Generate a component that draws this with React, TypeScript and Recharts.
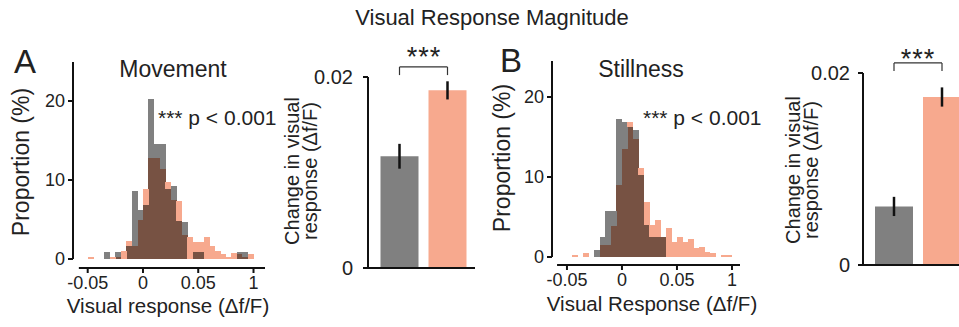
import React from 'react';
import { Bar, BarChart, Cell, ComposedChart, ErrorBar, Line, ReferenceLine, XAxis, YAxis } from 'recharts';

// histogram bins (left edges, bin width 0.005)
const binStarts = [
  -0.05, -0.045, -0.04, -0.035, -0.03, -0.025, -0.02, -0.015, -0.01, -0.005,
  0, 0.005, 0.01, 0.015, 0.02, 0.025, 0.03, 0.035, 0.04, 0.045,
  0.05, 0.055, 0.06, 0.065, 0.07, 0.075, 0.08, 0.085, 0.09, 0.095,
];
const BIN_W = 0.005;

// proportion (%) per bin
const movementGray = [
  0, 0, 0, 0.85, 0, 0.85, 0, 1.6, 8.6, 6.2,
  6.8, 20.3, 14.6, 14.6, 8.9, 9.2, 4.8, 4.7, 0, 0.85,
  0.85, 0, 0, 0, 0, 0, 0, 0.85, 0.85, 0,
];
const movementSalmon = [
  0.3, 0, 0, 0, 0.3, 0.3, 1.0, 2.3, 1.6, 4.9,
  8.9, 12.8, 12.8, 11.4, 9.7, 7.5, 7.3, 3.0, 2.8, 2.2,
  2.2, 2.8, 1.6, 1.0, 0.6, 0.3, 0.8, 0.6, 0.3, 0.6,
];
const stillnessGray = [
  0, 0, 0, 0, 0, 0.9, 2.5, 5.7, 5.7, 17.3,
  16.9, 16.3, 15.9, 10.2, 4.0, 2.5, 2.5, 2.5, 0, 0,
  0, 0, 0, 0, 0, 0, 0, 0, 0, 0,
];
const stillnessSalmon = [
  0, 0.3, 0, 0.5, 0, 0, 1.5, 1.5, 3.9, 9.0,
  13.5, 16.9, 14.7, 11.1, 6.9, 4.0, 4.6, 2.5, 3.6, 1.9,
  2.5, 1.9, 2.3, 1.1, 1.2, 0.6, 0.5, 0, 0.3, 0.3,
];

const histTicks = [-0.05, 0, 0.05, 0.1];
const histTickLabels = ['-0.05', '0', '0.05', '1'];
const propTicks = [0, 10, 20];

const conditions = ['gray', 'salmon'];
const movementMeans = [0.0117, 0.0186];
const movementSem = [0.0013, 0.00095];
const stillnessMeans = [0.0061, 0.0175];
const stillnessSem = [0.001, 0.001];
const barTicks = [0, 0.02];
const barTickLabels = ['0', '0.02'];

const FONT = '"Liberation Sans", Arial, Helvetica, sans-serif';
const SALMON = '#f7a98e';
const GRAY = '#808080';
const OVERLAP = '#775243';
const H = 327;
const Y_AXIS_W = 40;

interface HistProps {
  left: number;
  width: number;
  gray: number[];
  salmon: number[];
  plotLeft: number;
  plotRight: number;
  plotTop: number;
  plotBottom: number;
  xDomain: [number, number];
  yDomain: [number, number];
  axisStart: number;
}

function Histogram(p: HistProps) {
  // overlap drawn once, the excess of either series stacked on top of it
  const data = binStarts.map((b, i) => ({
    bin: b,
    mid: b + BIN_W / 2,
    both: Math.min(p.gray[i], p.salmon[i]),
    grayOnly: Math.max(p.gray[i] - p.salmon[i], 0),
    salmonOnly: Math.max(p.salmon[i] - p.gray[i], 0),
    salmon: p.salmon[i],
  }));
  const plotW = p.plotRight - p.plotLeft;
  const span = p.xDomain[1] - p.xDomain[0];
  const padL = ((binStarts[0] - p.xDomain[0]) / span) * plotW;
  const padR = ((p.xDomain[1] - (binStarts[binStarts.length - 1] + BIN_W)) / span) * plotW;
  const margin = {
    top: p.plotTop,
    left: p.plotLeft - p.left - Y_AXIS_W,
    right: p.left + p.width - p.plotRight,
    bottom: H - p.plotBottom - 30,
  };
  const tickStyle = { fontSize: 18, fill: '#222', fontFamily: FONT };
  return (
    <div style={{ position: 'absolute', left: p.left, top: 0 }}>
      <ComposedChart width={p.width} height={H} data={data} margin={margin} barCategoryGap={0} barGap={0}>
        <XAxis
          xAxisId="cat"
          dataKey="bin"
          type="category"
          orientation="top"
          height={0}
          hide
          padding={{ left: padL, right: padR }}
        />
        <XAxis
          xAxisId="num"
          dataKey="mid"
          type="number"
          domain={p.xDomain}
          allowDataOverflow
          ticks={histTicks}
          tickFormatter={(v: number) => histTickLabels[histTicks.indexOf(v)] ?? ''}
          axisLine={false}
          tickLine={{ stroke: '#111', strokeWidth: 2 }}
          tickSize={5}
          tickMargin={3}
          height={30}
          tick={tickStyle}
        />
        <YAxis
          domain={p.yDomain}
          allowDataOverflow
          ticks={propTicks}
          axisLine={false}
          tickLine={{ stroke: '#111', strokeWidth: 2 }}
          tickSize={5}
          tickMargin={3}
          width={Y_AXIS_W}
          tick={tickStyle}
        />
        <Bar xAxisId="cat" stackId="h" dataKey="both" fill={OVERLAP} isAnimationActive={false} shapeRendering="crispEdges" />
        <Bar xAxisId="cat" stackId="h" dataKey="grayOnly" fill={GRAY} isAnimationActive={false} shapeRendering="crispEdges" />
        <Bar xAxisId="cat" stackId="h" dataKey="salmonOnly" fill={SALMON} isAnimationActive={false} shapeRendering="crispEdges" />
        <Line xAxisId="num" dataKey="salmon" stroke="transparent" dot={false} activeDot={false} isAnimationActive={false} />
        <ReferenceLine
          xAxisId="num"
          segment={[{ x: p.axisStart, y: p.yDomain[0] }, { x: p.xDomain[1], y: p.yDomain[0] }]}
          stroke="#111"
          strokeWidth={2}
          ifOverflow="visible"
        />
        <ReferenceLine
          xAxisId="num"
          segment={[{ x: p.xDomain[0], y: 0 }, { x: p.xDomain[0], y: p.yDomain[1] }]}
          stroke="#111"
          strokeWidth={2}
          ifOverflow="visible"
        />
      </ComposedChart>
    </div>
  );
}

interface MeanProps {
  left: number;
  width: number;
  means: number[];
  sem: number[];
  plotLeft: number;
  plotTop: number;
  plotBottom: number;
  padLeft: number;
  tickGap: number;
}

function MeanBars(p: MeanProps) {
  const data = conditions.map((c, i) => ({ cond: c, value: p.means[i], sem: p.sem[i] }));
  const yw = 55;
  const margin = {
    top: p.plotTop,
    left: p.plotLeft - p.left - yw,
    right: 5,
    bottom: H - p.plotBottom - 10,
  };
  const plotW = p.width - margin.left - yw - margin.right;
  const padR = plotW - p.padLeft - 96;
  return (
    <div style={{ position: 'absolute', left: p.left, top: 0 }}>
      <BarChart width={p.width} height={H} data={data} margin={margin} barCategoryGap={10}>
        <XAxis
          dataKey="cond"
          type="category"
          tick={false}
          tickLine={false}
          axisLine={{ stroke: '#111', strokeWidth: 2 }}
          height={10}
          padding={{ left: p.padLeft, right: padR }}
        />
        <YAxis
          domain={[0, 0.02]}
          ticks={barTicks}
          tickFormatter={(v: number) => barTickLabels[barTicks.indexOf(v)] ?? ''}
          axisLine={{ stroke: '#111', strokeWidth: 2 }}
          tickLine={{ stroke: '#111', strokeWidth: 2 }}
          tickSize={5}
          tickMargin={p.tickGap}
          width={yw}
          tick={{ fontSize: 20, fill: '#222', fontFamily: FONT }}
        />
        <Bar dataKey="value" barSize={38} isAnimationActive={false}>
          {data.map((d, i) => (
            <Cell key={d.cond} fill={i === 0 ? GRAY : SALMON} />
          ))}
          <ErrorBar dataKey="sem" width={0} stroke="#111" strokeWidth={2.5} />
        </Bar>
        <ReferenceLine segment={[{ x: 'gray', y: 0.02105 }, { x: 'salmon', y: 0.02105 }]} stroke="#333" strokeWidth={1.2} ifOverflow="visible" />
        <ReferenceLine segment={[{ x: 'gray', y: 0.02105 }, { x: 'gray', y: 0.0202 }]} stroke="#333" strokeWidth={1.2} ifOverflow="visible" />
        <ReferenceLine segment={[{ x: 'salmon', y: 0.02105 }, { x: 'salmon', y: 0.0202 }]} stroke="#333" strokeWidth={1.2} ifOverflow="visible" />
      </BarChart>
    </div>
  );
}

const txt = (x: number, y: number, s: string, size: number, extra: React.CSSProperties = {}) => (
  <div
    style={{
      position: 'absolute',
      left: x,
      top: y,
      transform: 'translate(-50%, -50%)',
      fontSize: size,
      lineHeight: 1,
      whiteSpace: 'pre',
      color: '#222',
      fontFamily: FONT,
      ...extra,
    }}
  >
    {s}
  </div>
);

const vtxt = (x: number, y: number, s: string, size: number, lh = 1) => (
  <div
    style={{
      position: 'absolute',
      left: x,
      top: y,
      transform: 'translate(-50%, -50%) rotate(-90deg)',
      fontSize: size,
      lineHeight: lh,
      whiteSpace: 'pre',
      textAlign: 'center',
      color: '#222',
      fontFamily: FONT,
    }}
  >
    {s}
  </div>
);

export default function App() {
  return (
    <div style={{ position: 'absolute', left: 0, top: 0, width: 959, height: H, overflow: 'hidden', background: '#fff', fontFamily: FONT }}>
      <Histogram
        left={0}
        width={290}
        gray={movementGray}
        salmon={movementSalmon}
        plotLeft={73}
        plotRight={265}
        plotTop={62}
        plotBottom={268}
        xDomain={[-0.0633, 0.1104]}
        yDomain={[-1.14, 24.94]}
        axisStart={-0.058}
      />
      <MeanBars left={290} width={190} means={movementMeans} sem={movementSem} plotLeft={368} plotTop={77} plotBottom={268} padLeft={7.5} tickGap={10} />
      <Histogram
        left={480}
        width={290}
        gray={stillnessGray}
        salmon={stillnessSalmon}
        plotLeft={552}
        plotRight={740}
        plotTop={61}
        plotBottom={265}
        xDomain={[-0.0636, 0.1073]}
        yDomain={[-1.0, 24.5]}
        axisStart={-0.059}
      />
      <MeanBars left={780} width={200} means={stillnessMeans} sem={stillnessSem} plotLeft={863} plotTop={73} plotBottom={265} padLeft={7} tickGap={8} />

      {txt(492, 18, 'Visual Response Magnitude', 22)}
      {txt(25, 61, 'A', 33)}
      {txt(511, 60, 'B', 33)}
      {txt(173, 69, 'Movement', 23)}
      {txt(641, 69, 'Stillness', 23)}
      {txt(158, 117, '*** p < 0.001', 21, { transform: 'translate(0, -50%)' })}
      {txt(643, 117, '*** p < 0.001', 21, { transform: 'translate(0, -50%)' })}
      {txt(168, 306, 'Visual response (\u0394f/F)', 20.5)}
      {txt(652, 304, 'Visual Response (\u0394f/F)', 20.5)}
      {vtxt(21, 162, 'Proportion (%)', 23)}
      {vtxt(502, 158, 'Proportion (%)', 23)}
      {vtxt(302, 171, 'Change in visual\nresponse (\u0394f/F)', 20, 0.88)}
      {vtxt(803, 170, 'Change in visual\nresponse (\u0394f/F)', 20, 0.88)}
      {txt(424, 57, '***', 27, { letterSpacing: 1 })}
      {txt(918, 59, '***', 27, { letterSpacing: 1 })}
    </div>
  );
}
